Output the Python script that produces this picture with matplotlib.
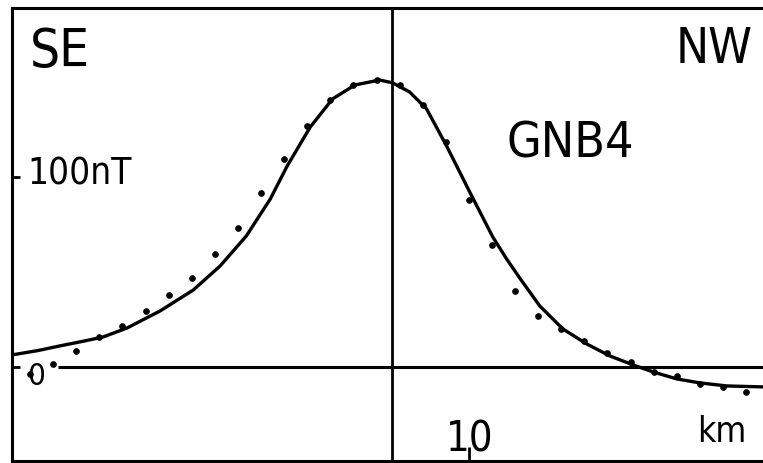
import matplotlib
matplotlib.use("Agg")
import matplotlib.pyplot as plt

# Observed anomaly along the profile (distance in km, field in nT)
obs_km = [-47, -44, -41, -38, -35, -32, -29, -26, -23, -20, -17, -14, -11, -8, -5, -2,
          1, 4, 7, 10, 13, 16, 19, 22, 25, 28, 31, 34, 37, 40, 43, 46]
obs_nt = [-3.7, 1.6, 8.4, 15.8, 21.6, 29.5, 37.9, 46.8, 59.5, 73.2, 91.6, 109.5, 126.8,
          140.5, 148.4, 151.0, 148.4, 137.9, 118.4, 87.9, 64.2, 40.0, 26.8, 20.0, 13.7,
          7.4, 2.6, -2.6, -4.7, -8.9, -10.5, -13.2]

# Model curve
model_km = [-49.4, -46.0, -43.1, -40.0, -37.5, -34.4, -30.1, -25.8, -22.3, -18.9, -15.8,
            -13.6, -10.6, -7.7, -4.8, -1.6, 0.1, 2.3, 4.5, 7.1, 10.1, 13.1, 14.9, 16.6,
            19.2, 22.2, 25.3, 28.3, 31.3, 33.9, 37.0, 40.0, 43.5, 48.2]
model_nt = [6.3, 8.6, 11.1, 13.6, 15.8, 20.5, 29.5, 40.5, 53.2, 69.0, 88.4, 105.8, 126.3,
            141.1, 148.4, 151.0, 149.5, 144.7, 135.8, 116.3, 92.1, 68.4, 56.8, 46.8,
            32.1, 20.0, 12.1, 5.8, 1.1, -2.6, -6.3, -8.4, -10.0, -10.5]

W, H = 763, 464
fig = plt.figure(figsize=(W / 100, H / 100), dpi=100)
ax = fig.add_axes([12 / W, 2 / H, (W - 12) / W, 453 / H])

x_lo, x_hi = -49.35, 48.2
y_lo, y_hi = -49.5, 188.9
ax.set_xlim(x_lo, x_hi)
ax.set_ylim(y_lo, y_hi)

for side in ("left", "top", "bottom"):
    ax.spines[side].set_linewidth(2.2)
ax.spines["right"].set_visible(False)

ax.set_xticks([10])
ax.set_xticklabels([])
ax.set_yticks([0, 100])
ax.set_yticklabels([])
ax.tick_params(axis="x", direction="in", length=10, width=2)
ax.tick_params(axis="y", direction="in", length=6, width=2)

# zero line and central vertical line
ax.plot([-43.4, x_hi], [0, 0], color="black", lw=2.2, solid_capstyle="butt")
ax.axvline(0, color="black", lw=2.0)

ax.plot(model_km, model_nt, color="black", lw=2.4, solid_joinstyle="round")
ax.plot(obs_km, obs_nt, "o", color="black", ms=3.8, clip_on=False)

fk = dict(family="DejaVu Sans", fontstretch="condensed", color="black", va="baseline")
ax.text(-47.0, 158.4, "SE", fontsize=38, ha="left", **fk)
ax.text(46.9, 160.5, "NW", fontsize=35.5, ha="right", **fk)
ax.text(14.9, 111.0, "GNB4", fontsize=36, ha="left", **fk)
ax.text(-47.3, 96.3, "100nT", fontsize=26.5, ha="left", **fk)
ax.text(-47.4, -8.9, "0", fontsize=22.5, ha="left", **fk)
ax.text(10.1, -44.2, "10", fontsize=30, ha="center", **fk)
ax.text(39.6, -38.9, "km", fontsize=25.5, ha="left", **fk)

fig.savefig("out.png", dpi=100)
